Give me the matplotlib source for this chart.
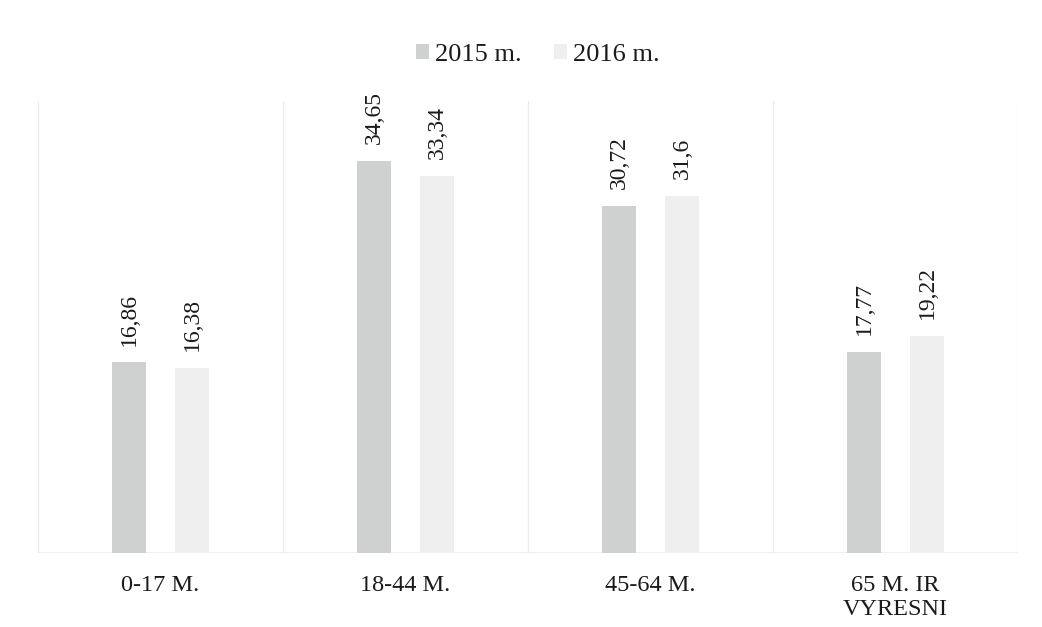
import numpy as np
import matplotlib.pyplot as plt

categories = ['0-17 M.', '18-44 M.', '45-64 M.', '65 M. IR\nVYRESNI']
series_names = ['2015 m.', '2016 m.']
values_2015 = [16.86, 34.65, 30.72, 17.77]
values_2016 = [16.38, 33.34, 31.6, 19.22]

colors = ['#cfd1d1', '#efefef']
grid_color = '#ececec'


def fmt(v):
    return f"{v:g}".replace('.', ',')


def main():
    plt.rcParams['font.family'] = ['Liberation Serif', 'DejaVu Serif']

    fig = plt.figure(figsize=(10.42, 6.27), dpi=100)
    ax = fig.add_axes([0.0365, 0.118, 0.9405, 0.721])

    x = np.arange(len(categories))
    width = 0.139
    offset = 0.129

    for vals, name, color, sign in zip([values_2015, values_2016], series_names, colors, [-1, 1]):
        bars = ax.bar(x + sign * offset, vals, width, color=color, label=name)
        for b, v in zip(bars, vals):
            ax.text(b.get_x() + b.get_width() / 2, v + 1.5, fmt(v),
                    rotation=90, ha='center', va='bottom', fontsize=17, color='#1a1a1a')

    # faint category separators
    for xs in np.arange(-0.5, len(categories), 1.0):
        ax.axvline(xs, color=grid_color, lw=1, zorder=0)
    ax.axhline(0, color=grid_color, lw=1.2, zorder=0)

    ax.set_xlim(-0.5, len(categories) - 0.5)
    ax.set_ylim(0, 40)
    ax.set_yticks([])
    ax.set_xticks(x)
    ax.set_xticklabels(categories, fontsize=17.5, color='#1a1a1a', linespacing=1.15)
    ax.tick_params(axis='x', length=0, pad=16)
    for s in ax.spines.values():
        s.set_visible(False)

    ax.legend(loc='lower center', bbox_to_anchor=(0.51, 1.025), ncol=2, frameon=False,
              fontsize=19, handlelength=0.5, handleheight=0.5, handletextpad=0.25,
              columnspacing=1.2, labelcolor='#1a1a1a')

    fig.savefig('out.png', dpi=100, facecolor='white')


if __name__ == "__main__":
    main()
